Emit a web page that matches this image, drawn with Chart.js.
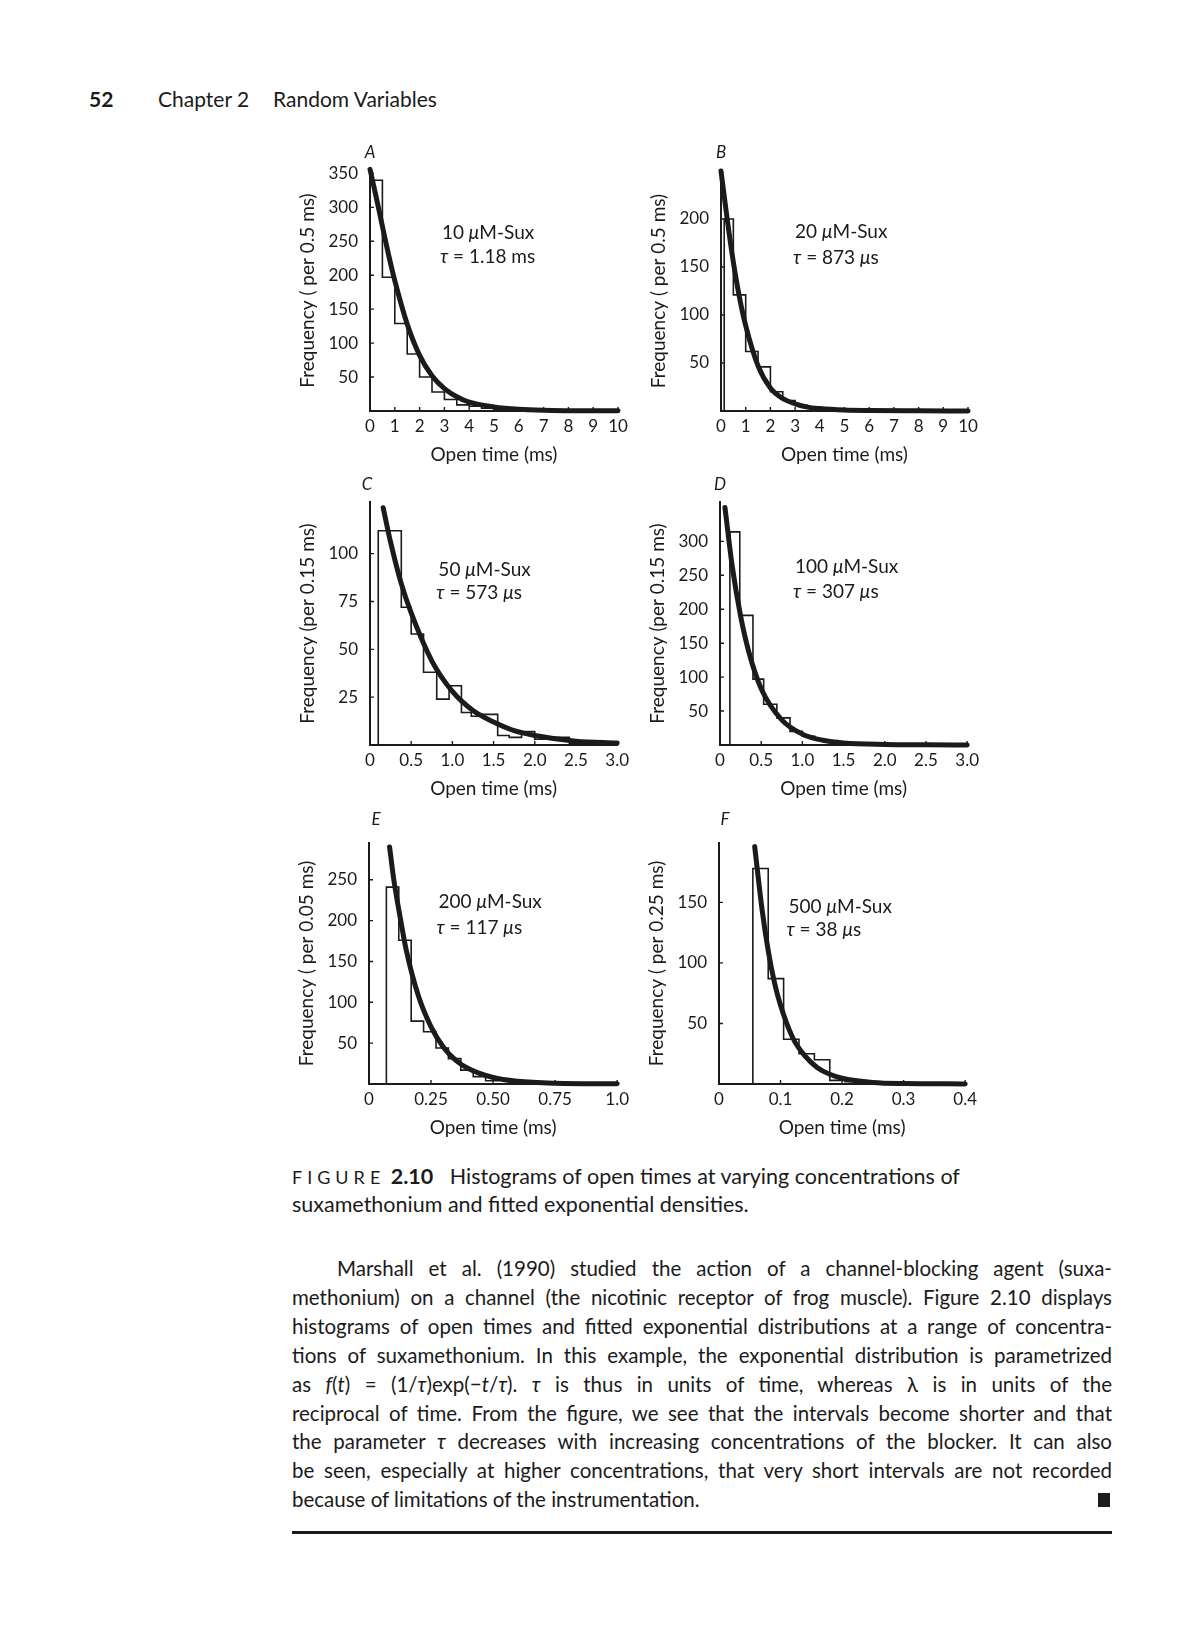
<!DOCTYPE html>
<html>
<head>
<meta charset="utf-8">
<script src="https://cdn.jsdelivr.net/npm/chart.js@4.4.1/dist/chart.umd.min.js"></script>
<style>
html, body { margin: 0; padding: 0; background: #fff; }
body { position: relative; width: 1200px; height: 1636px; overflow: hidden; font-family: Lato, "Open Sans", sans-serif; color: #1b1b1b; }
canvas { position: absolute; }
.hd { position: absolute; top: 86px; font-size: 21px; line-height: 26px; white-space: nowrap; }
.caption { position: absolute; left: 292px; top: 1163px; font-size: 21.5px; line-height: 27px; white-space: nowrap; }
.caption .fig { letter-spacing: 5px; font-size: 18px; }
.para { position: absolute; left: 292px; top: 1254px; width: 820px; font-size: 20.5px; line-height: 28.9px; }
.para div { text-align: justify; text-align-last: justify; white-space: nowrap; }
.para div.last { text-align-last: left; position: relative; }
.square { position: absolute; right: 2px; top: 8px; width: 12px; height: 14px; background: #1b1b1b; }
.rule { position: absolute; left: 292px; top: 1531px; width: 820px; height: 3px; background: #1b1b1b; }
</style>
</head>
<body>

<div class="hd" style="left:89px;font-weight:700">52</div>
<div class="hd" style="left:158px">Chapter 2</div>
<div class="hd" style="left:273px">Random Variables</div>

<div class="caption">
  <div><span class="fig">FIGURE</span> <b>2.10</b>&nbsp;&nbsp;&nbsp;Histograms of open times at varying concentrations of</div>
  <div>suxamethonium and fitted exponential densities.</div>
</div>

<div class="para">
  <div style="padding-left:45px">Marshall et al. (1990) studied the action of a channel-blocking agent (suxa-</div>
  <div>methonium) on a channel (the nicotinic receptor of frog muscle). Figure 2.10 displays</div>
  <div>histograms of open times and fitted exponential distributions at a range of concentra-</div>
  <div>tions of suxamethonium. In this example, the exponential distribution is parametrized</div>
  <div>as <i>f</i>(<i>t</i>) = (1/<i>τ</i>)exp(−<i>t</i>/<i>τ</i>). <i>τ</i> is thus in units of time, whereas λ is in units of the</div>
  <div>reciprocal of time. From the figure, we see that the intervals become shorter and that</div>
  <div>the parameter <i>τ</i> decreases with increasing concentrations of the blocker. It can also</div>
  <div>be seen, especially at higher concentrations, that very short intervals are not recorded</div>
  <div class="last">because of limitations of the instrumentation.<span class="square"></span></div>
</div>
<div class="rule"></div>

<script>
const INK = '#1b1b1b';
const FONT = 'Lato, "Open Sans", sans-serif';

// A: 10 uM-Sux
const aEdges = [0, 0.5, 1.0, 1.5, 2.0, 2.5, 3.0, 3.5, 4.0, 4.5, 5.0, 5.5, 6.0];
const aCounts = [340, 197, 129, 84, 50, 28, 17, 9, 7, 4, 3, 1];
const aCurveT = [0, 0.25, 0.5, 0.75, 1, 1.5, 2, 2.5, 3, 3.5, 4, 5, 6, 7, 8, 10];
const aCurveF = [356, 315, 272, 230, 192, 128, 82, 52, 33, 21, 13, 6, 2.5, 1, 0.5, 0.2];
const aXTicks = [0, 1, 2, 3, 4, 5, 6, 7, 8, 9, 10];
const aXLabels = ['0', '1', '2', '3', '4', '5', '6', '7', '8', '9', '10'];
const aYTicks = [50, 100, 150, 200, 250, 300, 350];

// B: 20 uM-Sux
const bEdges = [0.13, 0.5, 1.0, 1.5, 2.0, 2.5, 3.0, 3.5, 4.0, 4.5, 5.0];
const bCounts = [200, 121, 62, 46, 20, 11, 6, 4, 3, 2];
const bCurveT = [0, 0.25, 0.5, 0.75, 1, 1.5, 2, 2.5, 3, 3.5, 4, 5, 6, 8, 10];
const bCurveF = [250, 200, 155, 118, 89, 47, 24, 13, 7.5, 4, 2.5, 1, 0.5, 0.2, 0.1];
const bXTicks = aXTicks;
const bXLabels = aXLabels;
const bYTicks = [50, 100, 150, 200];

// C: 50 uM-Sux
const cEdges = [0.10, 0.38, 0.50, 0.65, 0.81, 0.96, 1.11, 1.23, 1.37, 1.55, 1.69, 1.84, 2.00, 2.12, 2.42, 2.58];
const cCounts = [112, 72, 58, 38, 24, 31, 17, 15, 16, 5, 4, 7, 3, 4, 1];
const cCurveT = [0.16, 0.25, 0.375, 0.5, 0.75, 1.0, 1.25, 1.5, 1.75, 2.0, 2.5, 3.0];
const cCurveF = [124, 106, 85, 69, 44, 28, 18, 12, 7.5, 5, 2, 1];
const cXTicks = [0, 0.5, 1, 1.5, 2, 2.5, 3];
const cXLabels = ['0', '0.5', '1.0', '1.5', '2.0', '2.5', '3.0'];
const cYTicks = [25, 50, 75, 100];

// D: 100 uM-Sux
const dEdges = [0.12, 0.24, 0.40, 0.53, 0.69, 0.85, 1.0, 1.15, 1.3, 1.5, 1.65];
const dCounts = [314, 191, 97, 60, 40, 20, 13, 7, 4, 2];
const dCurveT = [0.06, 0.15, 0.25, 0.35, 0.5, 0.75, 1.0, 1.25, 1.5, 2.0, 2.5, 3.0];
const dCurveF = [350, 262, 190, 137, 83, 37, 16, 7, 3, 0.8, 0.3, 0.1];
const dXTicks = cXTicks;
const dXLabels = cXLabels;
const dYTicks = [50, 100, 150, 200, 250, 300];

// E: 200 uM-Sux
const eEdges = [0.07, 0.12, 0.17, 0.22, 0.27, 0.32, 0.37, 0.42, 0.47, 0.52, 0.57, 0.62, 0.67, 0.72, 0.78];
const eCounts = [241, 176, 77, 64, 44, 31, 17, 9, 4, 6, 2, 2, 1, 1];
const eCurveT = [0.083, 0.1, 0.125, 0.15, 0.2, 0.25, 0.3, 0.35, 0.4, 0.5, 0.6, 0.75, 1.0];
const eCurveF = [290, 250, 205, 164, 107, 70, 45, 29, 19, 8, 3.4, 1, 0.2];
const eXTicks = [0, 0.25, 0.5, 0.75, 1];
const eXLabels = ['0', '0.25', '0.50', '0.75', '1.0'];
const eYTicks = [50, 100, 150, 200, 250];

// F: 500 uM-Sux
const fEdges = [0.055, 0.08, 0.105, 0.13, 0.155, 0.18, 0.205, 0.23, 0.255];
const fCounts = [178, 87, 37, 25, 20, 3, 2, 1];
const fCurveT = [0.058, 0.07, 0.08, 0.09, 0.1, 0.12, 0.14, 0.16, 0.18, 0.2, 0.25, 0.3, 0.4];
const fCurveF = [196, 144, 110, 84, 65, 38, 23, 13.5, 8, 4.7, 1.3, 0.4, 0.1];
const fXTicks = [0, 0.1, 0.2, 0.3, 0.4];
const fXLabels = ['0', '0.1', '0.2', '0.3', '0.4'];
const fYTicks = [50, 100, 150];

const panels = [
  { letter: 'A', edges: aEdges, counts: aCounts, curveT: aCurveT, curveF: aCurveF, xTicks: aXTicks, xLabels: aXLabels, yTicks: aYTicks,
    xMax: 10, yMax: 355, yTitle: 'Frequency ( per 0.5 ms)', box: [370, 170, 618, 411], letterOff: [0, -17],
    noteAt: [2.9, 262, 227], note: [[['10 ', 0], ['μ', 1], ['M-Sux', 0]], [['τ', 1], [' = 1.18 ms', 0]]] },
  { letter: 'B', edges: bEdges, counts: bCounts, curveT: bCurveT, curveF: bCurveF, xTicks: bXTicks, xLabels: bXLabels, yTicks: bYTicks,
    xMax: 10, yMax: 250, yTitle: 'Frequency ( per 0.5 ms)', box: [721, 171, 968, 411], letterOff: [0, -18],
    noteAt: [3.0, 187, 160], note: [[['20 ', 0], ['μ', 1], ['M-Sux', 0]], [['τ', 1], [' = 873 ', 0], ['μ', 1], ['s', 0]]] },
  { letter: 'C', edges: cEdges, counts: cCounts, curveT: cCurveT, curveF: cCurveF, xTicks: cXTicks, xLabels: cXLabels, yTicks: cYTicks,
    xMax: 3, yMax: 127, yTitle: 'Frequency (per 0.15 ms)', box: [370, 502, 618, 745], letterOff: [-3, -17],
    noteAt: [0.83, 91.5, 79.5], note: [[['50 ', 0], ['μ', 1], ['M-Sux', 0]], [['τ', 1], [' = 573 ', 0], ['μ', 1], ['s', 0]]] },
  { letter: 'D', edges: dEdges, counts: dCounts, curveT: dCurveT, curveF: dCurveF, xTicks: dXTicks, xLabels: dXLabels, yTicks: dYTicks,
    xMax: 3, yMax: 358, yTitle: 'Frequency (per 0.15 ms)', box: [720, 502, 968, 745], letterOff: [0, -17],
    noteAt: [0.91, 262, 225], note: [[['100 ', 0], ['μ', 1], ['M-Sux', 0]], [['τ', 1], [' = 307 ', 0], ['μ', 1], ['s', 0]]] },
  { letter: 'E', edges: eEdges, counts: eCounts, curveT: eCurveT, curveF: eCurveF, xTicks: eXTicks, xLabels: eXLabels, yTicks: eYTicks,
    xMax: 1, yMax: 295, yTitle: 'Frequency ( per 0.05 ms)', box: [369, 843, 618, 1084], letterOff: [7, -23],
    noteAt: [0.28, 223, 191], note: [[['200 ', 0], ['μ', 1], ['M-Sux', 0]], [['τ', 1], [' = 117 ', 0], ['μ', 1], ['s', 0]]] },
  { letter: 'F', edges: fEdges, counts: fCounts, curveT: fCurveT, curveF: fCurveF, xTicks: fXTicks, xLabels: fXLabels, yTicks: fYTicks,
    xMax: 0.4, yMax: 199, yTitle: 'Frequency ( per 0.25 ms)', box: [719, 843, 966, 1084], letterOff: [6, -23],
    noteAt: [0.113, 146, 127], note: [[['500 ', 0], ['μ', 1], ['M-Sux', 0]], [['τ', 1], [' = 38 ', 0], ['μ', 1], ['s', 0]]] }
];

// histogram outline: corners built from bin edges and counts
function histOutline(edges, counts) {
  const pts = [{ x: edges[0], y: 0 }];
  counts.forEach((c, i) => {
    pts.push({ x: edges[i], y: c });
    pts.push({ x: edges[i + 1], y: c });
  });
  pts.push({ x: edges[edges.length - 1], y: 0 });
  return pts;
}

function drawParts(ctx, parts, x, y, size) {
  let cx = x;
  parts.forEach(([txt, it]) => {
    ctx.font = (it ? 'italic ' : '') + size + 'px ' + FONT;
    ctx.fillText(txt, cx, y);
    cx += ctx.measureText(txt).width;
  });
}

const panelDecor = {
  id: 'panelDecor',
  afterDraw(chart, args, opts) {
    const { ctx, chartArea: ca, scales: { x, y } } = chart;
    ctx.save();
    ctx.strokeStyle = INK;
    ctx.lineWidth = 1.4;
    ctx.beginPath();
    x.ticks.forEach(t => {
      const px = x.getPixelForValue(t.value);
      ctx.moveTo(px, ca.bottom);
      ctx.lineTo(px, ca.bottom - 4);
    });
    y.ticks.forEach(t => {
      const py = y.getPixelForValue(t.value);
      ctx.moveTo(ca.left, py);
      ctx.lineTo(ca.left + 4, py);
    });
    ctx.stroke();

    ctx.fillStyle = INK;
    ctx.textBaseline = 'middle';
    ctx.textAlign = 'center';
    ctx.font = 'italic 17px ' + FONT;
    ctx.fillText(opts.letter, ca.left + opts.letterOff[0], ca.top + opts.letterOff[1]);

    ctx.textAlign = 'left';
    const nx = x.getPixelForValue(opts.noteAt[0]);
    drawParts(ctx, opts.note[0], nx, y.getPixelForValue(opts.noteAt[1]), 19);
    drawParts(ctx, opts.note[1], nx - 2, y.getPixelForValue(opts.noteAt[2]), 19);
    ctx.restore();
  }
};

const padL = 80, padT = 32, padR = 16, padB = 62;

function makePanel(p) {
  const [L, T, R, B] = p.box;
  const cv = document.createElement('canvas');
  cv.width = (R - L) + padL + padR;
  cv.height = (B - T) + padT + padB;
  cv.style.left = (L - padL) + 'px';
  cv.style.top = (T - padT) + 'px';
  cv.style.width = cv.width + 'px';
  cv.style.height = cv.height + 'px';
  document.body.appendChild(cv);

  new Chart(cv, {
    type: 'line',
    data: {
      datasets: [
        {
          data: p.curveT.map((t, i) => ({ x: t, y: p.curveF[i] })),
          borderColor: INK,
          borderWidth: 5,
          cubicInterpolationMode: 'monotone',
          pointRadius: 0,
          borderCapStyle: 'round',
          clip: false,
          order: 0
        },
        {
          data: histOutline(p.edges, p.counts),
          borderColor: INK,
          borderWidth: 1.6,
          tension: 0,
          pointRadius: 0,
          order: 1
        }
      ]
    },
    options: {
      responsive: false,
      animation: false,
      devicePixelRatio: 1,
      layout: { padding: { left: 0, top: padT, right: padR, bottom: 0 } },
      plugins: {
        legend: { display: false },
        tooltip: { enabled: false },
        panelDecor: { letter: p.letter, letterOff: p.letterOff, noteAt: p.noteAt, note: p.note }
      },
      scales: {
        x: {
          type: 'linear',
          min: 0,
          max: p.xMax,
          afterBuildTicks: s => { s.ticks = p.xTicks.map(v => ({ value: v })); },
          afterFit: s => { s.height = padB; },
          grid: { display: false, drawTicks: false },
          border: { color: INK, width: 2 },
          ticks: {
            color: INK, padding: 5, maxRotation: 0, autoSkip: false,
            font: { family: FONT, size: 17 },
            callback: (v, i) => p.xLabels[i]
          },
          title: { display: true, text: 'Open time (ms)', color: INK, font: { family: FONT, size: 19 }, padding: { top: 0, bottom: 7 } }
        },
        y: {
          type: 'linear',
          min: 0,
          max: p.yMax,
          afterBuildTicks: s => { s.ticks = p.yTicks.map(v => ({ value: v })); },
          afterFit: s => { s.width = padL; },
          grid: { display: false, drawTicks: false },
          border: { color: INK, width: 2 },
          ticks: { color: INK, padding: 12, font: { family: FONT, size: 17 } },
          title: { display: true, text: p.yTitle, color: INK, font: { family: FONT, size: 19 }, padding: { top: 6, bottom: 0 } }
        }
      }
    },
    plugins: [panelDecor]
  });
}

panels.forEach(makePanel);
</script>
</body>
</html>
